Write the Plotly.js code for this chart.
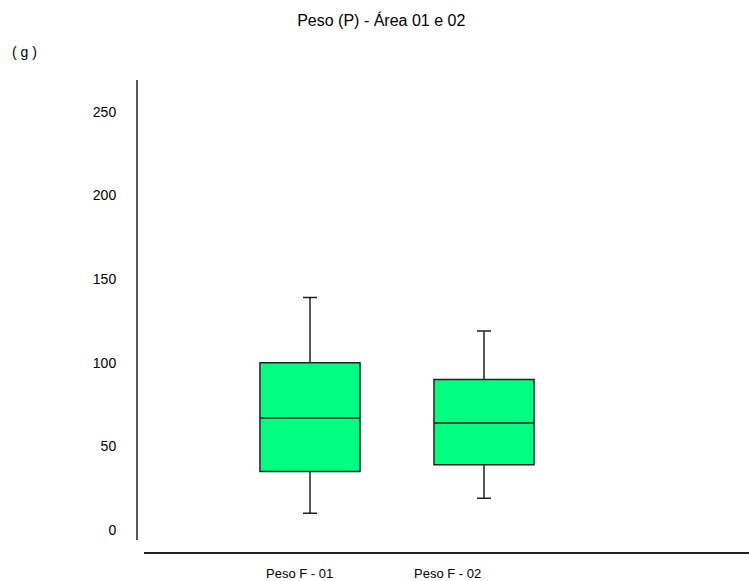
<!DOCTYPE html>
<html>
<head>
<meta charset="utf-8">
<script src="https://cdn.plot.ly/plotly-3.0.1.min.js"></script>
<style>html,body{margin:0;padding:0;background:#fff;}#chart{width:749px;height:581px;}</style>
</head>
<body>
<div id="chart"></div>
<script>
// Data
const categories = ["Peso F - 01", "Peso F - 02"];
const lowerWhisker = [10, 19];
const q1 = [35, 39];
const median = [67, 64];
const q3 = [100, 90];
const upperWhisker = [139, 119];
const yTicks = [0, 50, 100, 150, 200, 250];
const chartTitle = "Peso (P) - Área 01 e 02";
const yUnit = "( g )";

const FONT = "'Liberation Sans Narrow', 'Liberation Sans', Arial, sans-serif";

const trace = {
  type: "box",
  x: categories,
  lowerfence: lowerWhisker,
  q1: q1,
  median: median,
  q3: q3,
  upperfence: upperWhisker,
  fillcolor: "#00ff80",
  line: {color: "#222222", width: 1.5},
  width: 0.575,
  whiskerwidth: 0.14,
  boxpoints: false,
  hoverinfo: "none",
  showlegend: false
};

const annotations = [
  {text: yUnit, xref: "paper", yref: "paper", x: -0.197, y: 1.06, xanchor: "center", yanchor: "middle", showarrow: false, font: {family: FONT, size: 14, color: "#000"}},
  {text: categories[0], xref: "x", yref: "paper", x: categories[0], xshift: -11, y: 0, yshift: -21, xanchor: "center", yanchor: "middle", showarrow: false, font: {family: FONT, size: 13, color: "#000"}},
  {text: categories[1], xref: "x", yref: "paper", x: categories[1], xshift: -37, y: 0, yshift: -21, xanchor: "center", yanchor: "middle", showarrow: false, font: {family: FONT, size: 13, color: "#000"}}
];

const layout = {
  width: 749,
  height: 581,
  paper_bgcolor: "#ffffff",
  plot_bgcolor: "#ffffff",
  margin: {l: 144, r: 0, t: 80, b: 29, pad: 0},
  title: {text: chartTitle, x: 0.509, xanchor: "center", xref: "container", y: 0.9656, yref: "container", yanchor: "middle", font: {family: FONT, size: 16, color: "#000"}},
  font: {family: FONT, size: 13, color: "#000"},
  xaxis: {
    type: "category",
    range: [-0.954, 2.523],
    showticklabels: false,
    ticks: "",
    showgrid: false,
    zeroline: false,
    showline: true,
    linecolor: "#222222",
    linewidth: 1.5,
    fixedrange: true
  },
  yaxis: {
    range: [-13.15, 269.0],
    tickvals: yTicks,
    ticktext: yTicks.map(String),
    ticks: "outside",
    ticklen: 24,
    tickcolor: "rgba(0,0,0,0)",
    showgrid: false,
    zeroline: false,
    showline: false,
    tickfont: {family: FONT, size: 14, color: "#000"},
    fixedrange: true
  },
  shapes: [
    {type: "line", xref: "paper", yref: "paper", x0: -0.0116, x1: -0.0116, y0: 0.0254, y1: 1, line: {color: "#222222", width: 1.5}}
  ],
  annotations: annotations
};

Plotly.newPlot("chart", [trace], layout, {staticPlot: true, displayModeBar: false});
</script>
</body>
</html>
